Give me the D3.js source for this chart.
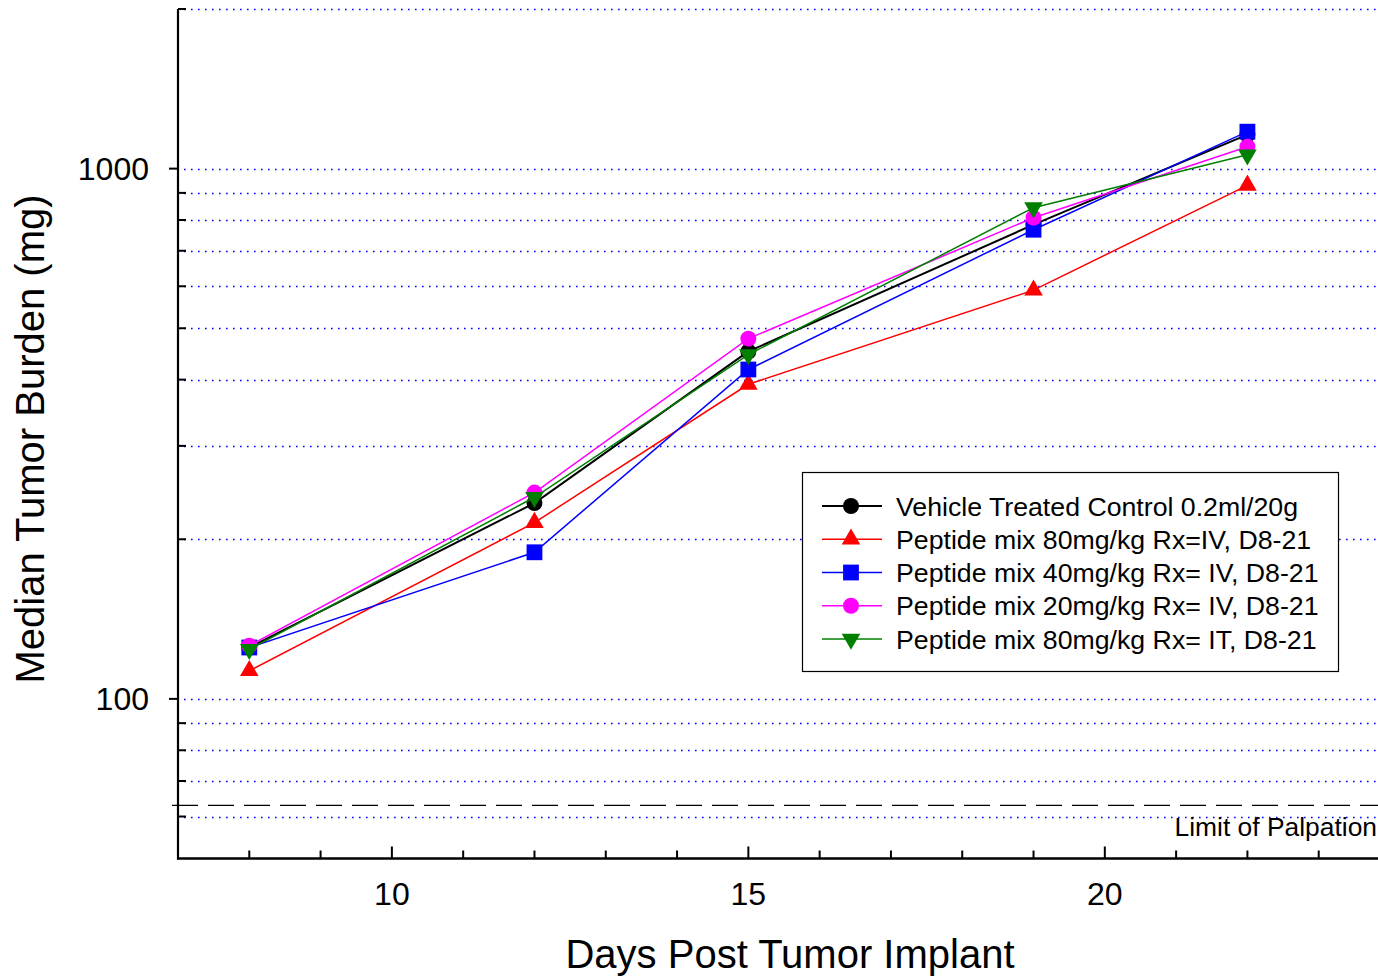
<!DOCTYPE html>
<html>
<head>
<meta charset="utf-8">
<script src="https://d3js.org/d3.v7.min.js"></script>
<style>
  html, body { margin: 0; padding: 0; background: #fff; }
  svg { display: block; font-family: "Liberation Sans", Arial, sans-serif; }
</style>
</head>
<body>
<svg id="chart" width="1378" height="979"></svg>
<script>
// ---- data ----
const days = [8, 12, 15, 19, 22];
const vehicle = [125, 234, 452, 784, 1159];
const pep80iv = [113, 215, 392, 590, 930];
const pep40iv = [125, 189, 418, 767, 1174];
const pep20iv = [126, 245, 478, 808, 1100];
const pep80it = [124, 240, 446, 844, 1062];
const seriesNames = [
  "Vehicle Treated Control 0.2ml/20g",
  "Peptide mix 80mg/kg Rx=IV, D8-21",
  "Peptide mix 40mg/kg Rx= IV, D8-21",
  "Peptide mix 20mg/kg Rx= IV, D8-21",
  "Peptide mix 80mg/kg Rx= IT, D8-21"
];
const majorYTicks = [100, 1000];
const minorYTicks = [60, 70, 80, 90, 200, 300, 400, 500, 600, 700, 800, 900, 2000];
const majorXTicks = [10, 15, 20];
const minorXTicks = [8, 9, 11, 12, 13, 14, 16, 17, 18, 19, 21, 22, 23];
const limitOfPalpation = 63;
const xTitle = "Days Post Tumor Implant";
const yTitle = "Median Tumor Burden (mg)";
const limitLabel = "Limit of Palpation";

// ---- styles ----
const styles = [
  { color: "#000000", symbol: d3.symbolCircle, size: 200, rot: 0, width: 2 },
  { color: "#ff0000", symbol: d3.symbolTriangle, size: 150, rot: 0, width: 1.5 },
  { color: "#0000ff", symbol: d3.symbolSquare, size: 250, rot: 0, width: 1.5 },
  { color: "#ff00ff", symbol: d3.symbolCircle, size: 200, rot: 0, width: 1.5 },
  { color: "#007f00", symbol: d3.symbolTriangle, size: 150, rot: 180, width: 1.5 }
];
const allSeries = [vehicle, pep80iv, pep40iv, pep20iv, pep80it];

const svg = d3.select("#chart");
const x = d3.scaleLinear().domain([7, 24]).range([178, 1390]);
const y = d3.scaleLog().domain([50, 2000]).range([858.5, 9]);
const x0 = 178, xEnd = 1378, yBottom = 858.5, yTop = 9;

// grid lines (dotted blue)
const gridVals = majorYTicks.concat(minorYTicks);
svg.append("g")
  .selectAll("line").data(gridVals).join("line")
  .attr("x1", x0 + 6).attr("x2", xEnd)
  .attr("y1", d => Math.round(y(d)) + 0.5).attr("y2", d => Math.round(y(d)) + 0.5)
  .attr("stroke", "#0000ff").attr("stroke-width", 1.4)
  .attr("stroke-dasharray", "1.6,5.4");

// limit of palpation
svg.append("line")
  .attr("x1", 172).attr("x2", xEnd)
  .attr("y1", y(limitOfPalpation)).attr("y2", y(limitOfPalpation))
  .attr("stroke", "#000").attr("stroke-width", 1.2)
  .attr("stroke-dasharray", "26,10");
svg.append("text")
  .attr("x", 1377).attr("y", 836)
  .attr("text-anchor", "end")
  .attr("font-size", 26.4)
  .text(limitLabel);

// axes
const axisG = svg.append("g");
axisG.append("line").attr("x1", x0).attr("x2", x0).attr("y1", yTop).attr("y2", yBottom + 1)
  .attr("stroke", "#000").attr("stroke-width", 2.2);
axisG.append("line").attr("x1", x0 - 1).attr("x2", xEnd).attr("y1", yBottom).attr("y2", yBottom)
  .attr("stroke", "#000").attr("stroke-width", 2.4);

// y ticks
axisG.selectAll(".ymaj").data(majorYTicks).join("line")
  .attr("x1", x0 - 9).attr("x2", x0)
  .attr("y1", d => y(d)).attr("y2", d => y(d))
  .attr("stroke", "#000").attr("stroke-width", 2);
axisG.selectAll(".ymin").data(minorYTicks).join("line")
  .attr("x1", x0).attr("x2", x0 + 8)
  .attr("y1", d => y(d)).attr("y2", d => y(d))
  .attr("stroke", "#000").attr("stroke-width", 2);
axisG.selectAll(".ylab").data(majorYTicks).join("text")
  .attr("x", 149).attr("y", d => y(d))
  .attr("dy", "0.36em")
  .attr("text-anchor", "end")
  .attr("font-size", 32)
  .text(d => d3.format("d")(d));

// x ticks
axisG.selectAll(".xmaj").data(majorXTicks).join("line")
  .attr("x1", d => x(d)).attr("x2", d => x(d))
  .attr("y1", yBottom).attr("y2", yBottom - 12)
  .attr("stroke", "#000").attr("stroke-width", 2);
axisG.selectAll(".xmin").data(minorXTicks).join("line")
  .attr("x1", d => x(d)).attr("x2", d => x(d))
  .attr("y1", yBottom).attr("y2", yBottom - 8)
  .attr("stroke", "#000").attr("stroke-width", 2);
axisG.selectAll(".xlab").data(majorXTicks).join("text")
  .attr("x", d => x(d)).attr("y", 905)
  .attr("text-anchor", "middle")
  .attr("font-size", 32)
  .text(d => d);

// axis titles
svg.append("text")
  .attr("x", 790).attr("y", 968)
  .attr("text-anchor", "middle")
  .attr("font-size", 40)
  .text(xTitle);
svg.append("text")
  .attr("transform", "translate(44,439) rotate(-90)")
  .attr("text-anchor", "middle")
  .attr("font-size", 40)
  .text(yTitle);

// series
const line = d3.line().x(d => x(d[0])).y(d => y(d[1]));
allSeries.forEach((vals, i) => {
  const st = styles[i];
  const pts = days.map((d, j) => [d, vals[j]]);
  const g = svg.append("g");
  g.append("path").datum(pts)
    .attr("d", line)
    .attr("fill", "none")
    .attr("stroke", st.color)
    .attr("stroke-width", st.width);
  g.selectAll("path.m").data(pts).join("path")
    .attr("class", "m")
    .attr("d", d3.symbol().type(st.symbol).size(st.size))
    .attr("transform", d => `translate(${x(d[0])},${y(d[1])}) rotate(${st.rot})`)
    .attr("fill", st.color);
});

// legend
const lg = svg.append("g");
lg.append("rect")
  .attr("x", 802.5).attr("y", 472.5).attr("width", 536).attr("height", 199)
  .attr("fill", "#fff").attr("stroke", "#000").attr("stroke-width", 1.2);
const legY = d3.scaleLinear().domain([0, 4]).range([506, 639]);
seriesNames.forEach((name, i) => {
  const st = styles[i];
  const cy = legY(i);
  lg.append("line").attr("x1", 822).attr("x2", 882).attr("y1", cy).attr("y2", cy)
    .attr("stroke", st.color).attr("stroke-width", st.width);
  lg.append("path")
    .attr("d", d3.symbol().type(st.symbol).size(st.size)())
    .attr("transform", `translate(851,${cy}) rotate(${st.rot})`)
    .attr("fill", st.color);
  lg.append("text")
    .attr("x", 896).attr("y", cy).attr("dy", "0.36em")
    .attr("font-size", 26.7)
    .text(name);
});
</script>
</body>
</html>
